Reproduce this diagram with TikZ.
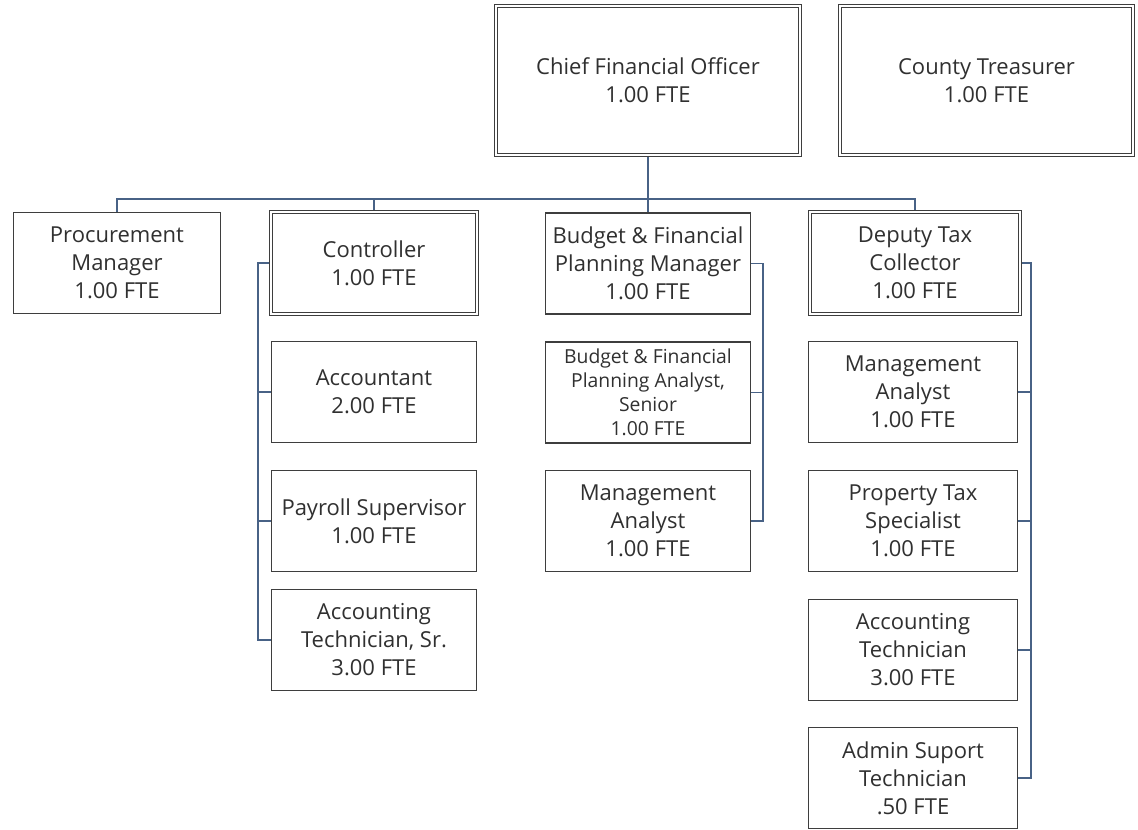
\documentclass[tikz,border=0pt]{standalone}
\usepackage{fontspec}
\setmainfont{Open Sans}
\usetikzlibrary{backgrounds}

\definecolor{boxline}{RGB}{62,62,62}
\definecolor{linkline}{RGB}{72,98,134}
\definecolor{txtgray}{RGB}{48,48,48}

\tikzset{every picture/.style={line width=0.75pt}}
\tikzset{
  post/.style={draw=boxline, line width=1.1pt, fill=white, text=txtgray, align=center,
    inner sep=1pt, font=\fontsize{16.5}{21}\selectfont, minimum height=76pt},
  lead/.style={post, double=white, double distance=1.3pt, line width=0.9pt},
  colctrl/.style={minimum width=154pt},
  colbudg/.style={minimum width=154pt},
  coldept/.style={minimum width=157pt},
  small/.style={font=\fontsize{14.5}{18}\selectfont},
  link/.style={draw=linkline, line width=1.4pt},
}

\begin{document}
\begin{tikzpicture}[x=0.75pt,y=0.75pt,yscale=-1,xscale=1]
\useasboundingbox (0,0) rectangle (1138,830);

%Top row
\node [lead, minimum width=228pt, minimum height=112pt] (cfo) at (648,80.5) {Chief Financial Officer\\1.00 FTE};
\node [lead, minimum width=220pt, minimum height=112pt] (trs) at (986.5,80.5) {County Treasurer\\1.00 FTE};

%Second row
\node [post, minimum width=155pt] (proc) at (117,263) {Procurement\\Manager\\1.00 FTE};
\node [lead, colctrl] (ctrl) at (374,263) {Controller\\1.00 FTE};
\node [post, colbudg] (bfpm) at (648,263.5) {Budget \& Financial\\Planning Manager\\1.00 FTE};
\node [lead, coldept] (dtc) at (915,263) {Deputy Tax\\Collector\\1.00 FTE};

%Controller column
\node [post, colctrl] (acct) at (374,392) {Accountant\\2.00 FTE};
\node [post, colctrl] (pay) at (374,521) {Payroll Supervisor\\1.00 FTE};
\node [post, colctrl] (ats) at (374,640) {Accounting\\Technician, Sr.\\3.00 FTE};

%Budget column
\node [post, colbudg, small] (bfpa) at (648,392.5) {Budget \& Financial\\Planning Analyst,\\Senior\\1.00 FTE};
\node [post, colbudg] (bma) at (648,521) {Management\\Analyst\\1.00 FTE};

%Deputy column
\node [post, coldept] (dma) at (913,392) {Management\\Analyst\\1.00 FTE};
\node [post, coldept] (pts) at (913,521) {Property Tax\\Specialist\\1.00 FTE};
\node [post, coldept] (dat) at (913,650) {Accounting\\Technician\\3.00 FTE};
\node [post, coldept] (ast) at (913,778) {Admin Suport\\Technician\\.50 FTE};

%Connectors
\coordinate (bar) at (648,199);
\coordinate (cbus) at (258,263);
\coordinate (bbus) at (763,263);
\coordinate (dbus) at (1031,263);
\begin{scope}[on background layer]
\draw [link] (cfo.south) -- (bar);
\draw [link] (proc.north) |- (bar) -| (dtc.north);
\draw [link] (ctrl.north) -- (ctrl.north |- bar);
\draw [link] (bfpm.north) -- (bar);

\draw [link] (ctrl.west) -| (cbus |- ats.west) -- (ats.west);
\foreach \n in {acct,pay}
  \draw [link] (\n.west) -- (\n.west -| cbus);

\draw [link] (bfpm.east) -| (bbus |- bma.east) -- (bma.east);
\draw [link] (bfpa.east) -- (bfpa.east -| bbus);

\draw [link] (dtc.east) -| (dbus |- ast.east) -- (ast.east);
\foreach \n in {dma,pts,dat}
  \draw [link] (\n.east) -- (\n.east -| dbus);
\end{scope}

\end{tikzpicture}
\end{document}
